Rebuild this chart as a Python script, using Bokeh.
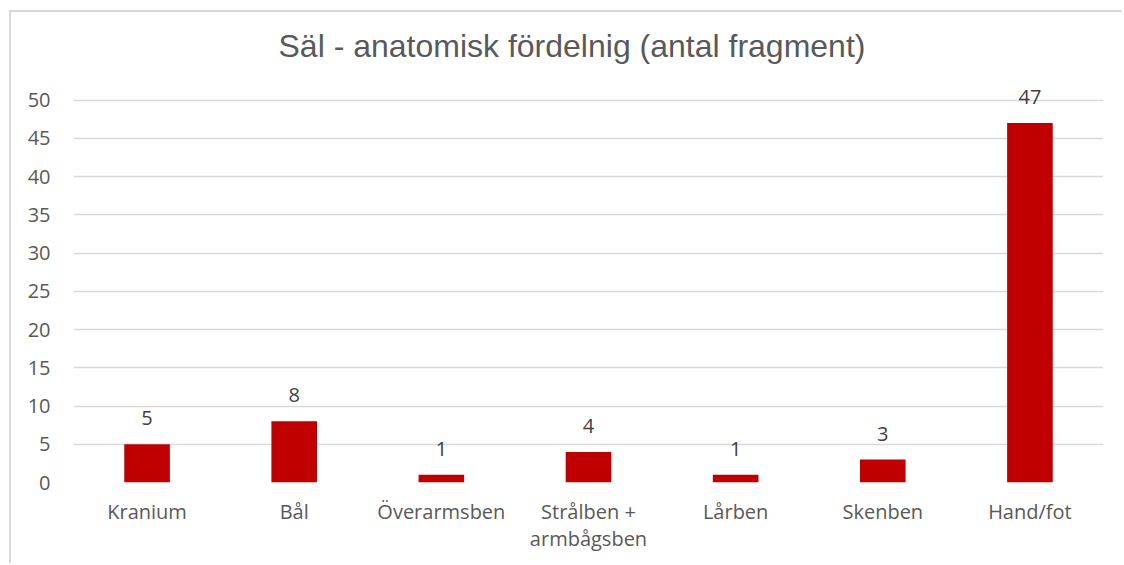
from bokeh.plotting import figure
from bokeh.models import ColumnDataSource, Range1d, FixedTicker
from bokeh.embed import file_html
from bokeh.resources import INLINE
from bokeh.core.properties import value

categories = ["Kranium", "Bål", "Överarmsben", "Strålben +\narmbågsben", "Lårben", "Skenben", "Hand/fot"]
counts = [5, 8, 1, 4, 1, 3, 47]
labels = [str(c) for c in counts]
y_ticks = [0, 5, 10, 15, 20, 25, 30, 35, 40, 45, 50]

src = ColumnDataSource(dict(cat=categories, val=counts, lab=labels))

p = figure(x_range=categories, y_range=Range1d(0, 54), width=1113, height=553,
           output_backend="svg", toolbar_location=None,
           min_border_left=62, min_border_right=21, min_border_top=57, min_border_bottom=83)
p.title.text = "Säl - anatomisk fördelnig (antal fragment)"
p.title.text_font = "Liberation Sans"
p.title.text_font_size = "32px"
p.title.text_font_style = "normal"
p.title.text_color = "#595959"
p.title.align = "left"
p.title.offset = 205
p.title.standoff = 12

p.vbar(x="cat", top="val", width=0.31, source=src, fill_color="#C00000", line_color=None)
p.text(x="cat", y="val", text="lab", source=src, text_align="center", text_baseline="alphabetic",
       y_offset=-26, text_font=value("Open Sans"), text_font_size="20px", text_color="#404040")

p.yaxis.ticker = FixedTicker(ticks=y_ticks)
for ax in (p.xaxis, p.yaxis):
    ax.axis_line_color = None
    ax.major_tick_line_color = None
    ax.minor_tick_line_color = None
    ax.major_label_text_font = "Open Sans"
    ax.major_label_text_font_size = "20px"
    ax.major_label_text_color = "#595959"
p.xaxis.major_label_text_line_height = 1.0
p.yaxis.major_label_standoff = 17
p.xaxis.major_label_standoff = 9
p.xgrid.grid_line_color = None
p.ygrid.grid_line_color = "#D9D9D9"
p.ygrid.grid_line_width = 1.5
p.outline_line_color = None
p.background_fill_color = "white"
p.border_fill_color = "white"
p.styles = {"margin-left": "9px", "margin-top": "10px",
            "border-left": "2px solid #D9D9D9", "border-top": "2px solid #D9D9D9"}

open("out.html", "w").write(file_html(p, INLINE))
